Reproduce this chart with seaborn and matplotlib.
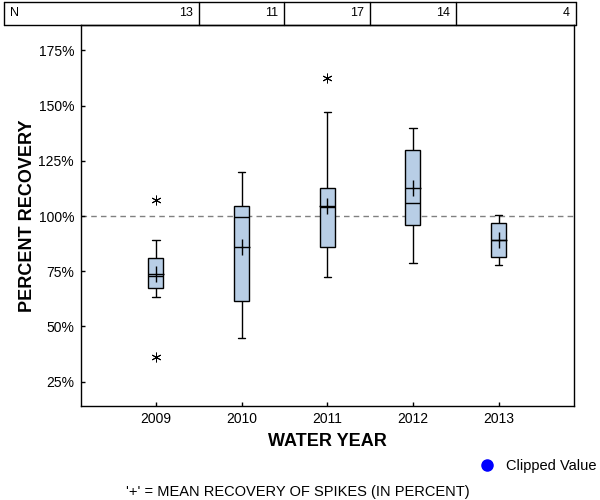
import pandas as pd
import numpy as np
import matplotlib
matplotlib.use("Agg")
import matplotlib.pyplot as plt
import seaborn as sns
from matplotlib.lines import Line2D
from matplotlib.ticker import FuncFormatter

# five-number summaries (percent recovery)
years = ["2009", "2010", "2011", "2012", "2013"]
n_samples = [13, 11, 17, 14, 4]
whisker_low = [63.2, 44.6, 72.2, 78.6, 77.7]
box_low = [67.3, 61.4, 85.8, 95.8, 81.3]
medians = [72.7, 99.5, 104.1, 105.7, 89.0]
box_high = [80.8, 104.4, 112.5, 129.8, 96.7]
whisker_high = [89.0, 120.0, 147.0, 140.0, 100.3]
means = [73.6, 86.1, 104.7, 112.5, 89.3]
outlier_years = ["2009", "2009", "2011"]
outlier_values = [107.1, 36.0, 162.4]

# long table: with whis=(0, 100) these five points give exactly the box + whiskers
rows = []
for i, yr in enumerate(years):
    for v in [whisker_low[i], box_low[i], medians[i], box_high[i], whisker_high[i]]:
        rows.append({"year": yr, "value": v})
box_df = pd.DataFrame(rows)

sns.set_style("ticks")
plt.rcParams["font.family"] = ["Liberation Sans", "DejaVu Sans"]
plt.rcParams["font.size"] = 9
plt.rcParams["text.color"] = "black"
plt.rcParams["axes.labelcolor"] = "black"
plt.rcParams["xtick.color"] = "black"
plt.rcParams["ytick.color"] = "black"

fig = plt.figure(figsize=(6, 5), dpi=100)
ax = fig.add_axes([81 / 600, 1 - 406 / 500, (574 - 81) / 600, (406 - 25) / 500])

ax.axhline(100, color="#808080", linestyle=(0, (4, 3)), linewidth=1, zorder=0)

sns.boxplot(data=box_df, x="year", y="value", order=years, whis=(0, 100),
            width=0.175, color="#b8cee6", saturation=1, linecolor="black",
            linewidth=1, fliersize=0, ax=ax)

sns.pointplot(x=years, y=means, order=years, linestyle="none", marker="+",
              markersize=11, markeredgewidth=1, color="black", errorbar=None, ax=ax)

sns.stripplot(x=outlier_years, y=outlier_values, order=years, jitter=False,
              marker=(6, 2, 0), size=6.5, linewidth=0.7, color="black",
              edgecolor="black", ax=ax)

ax.set_xlim(-0.875, 4.88)
ax.set_ylim(14, 186.5)
ax.set_yticks([25, 50, 75, 100, 125, 150, 175])
ax.yaxis.set_major_formatter(FuncFormatter(lambda v, p: f"{v:.0f}%"))
ax.tick_params(direction="in", length=3, width=1, colors="black", labelsize=10)
ax.tick_params(axis="y", pad=5)
ax.tick_params(axis="x", pad=4)
for s in ax.spines.values():
    s.set_visible(True)
    s.set_linewidth(1)
    s.set_color("black")

ax.set_xlabel("WATER YEAR", fontsize=13, fontweight="bold")
ax.xaxis.set_label_coords(0.5, -(441 - 406) / 381, transform=ax.transAxes)
ax.xaxis.label.set_va("center")
ax.set_ylabel("PERCENT RECOVERY", fontsize=13, fontweight="bold")
ax.yaxis.set_label_coords(-(81 - 36) / 493, 0.5)

# N table across the top
t_top, t_bot = 1 - 2 / 500, 1 - 25 / 500
t_left, t_right = 4 / 600, 576 / 600
trans = matplotlib.transforms.blended_transform_factory(ax.transData, fig.transFigure)
for y in (t_top, t_bot):
    fig.add_artist(Line2D([t_left, t_right], [y, y], color="black", linewidth=1))
for x in (t_left, t_right):
    fig.add_artist(Line2D([x, x], [t_bot, t_top], color="black", linewidth=1))
for i in range(len(years) - 1):
    fig.add_artist(Line2D([i + 0.5, i + 0.5], [t_bot, t_top], color="black",
                          linewidth=1, transform=trans))
fig.text(10 / 600, (t_top + t_bot) / 2, "N", ha="left", va="center", fontsize=9)
for i, n in enumerate(n_samples):
    if i < len(years) - 1:
        fig.text(i + 0.5 - 0.07, (t_top + t_bot) / 2, str(n), ha="right",
                 va="center", fontsize=9, transform=trans)
    else:
        fig.text(t_right - 6 / 600, (t_top + t_bot) / 2, str(n), ha="right",
                 va="center", fontsize=9)

# legend and footnote
fig.legend(handles=[Line2D([], [], marker="o", color="blue", linestyle="none", markersize=8)],
           labels=["Clipped Value"], loc="center left",
           bbox_to_anchor=(480 / 600, 1 - 466 / 500), frameon=False,
           handlelength=1, handletextpad=0.8, borderpad=0, borderaxespad=0, fontsize=10.5)
fig.text(298 / 600, 1 - 492 / 500, "'+' = MEAN RECOVERY OF SPIKES (IN PERCENT)",
         ha="center", va="center", fontsize=10.5)

fig.savefig("out.png", dpi=100)
